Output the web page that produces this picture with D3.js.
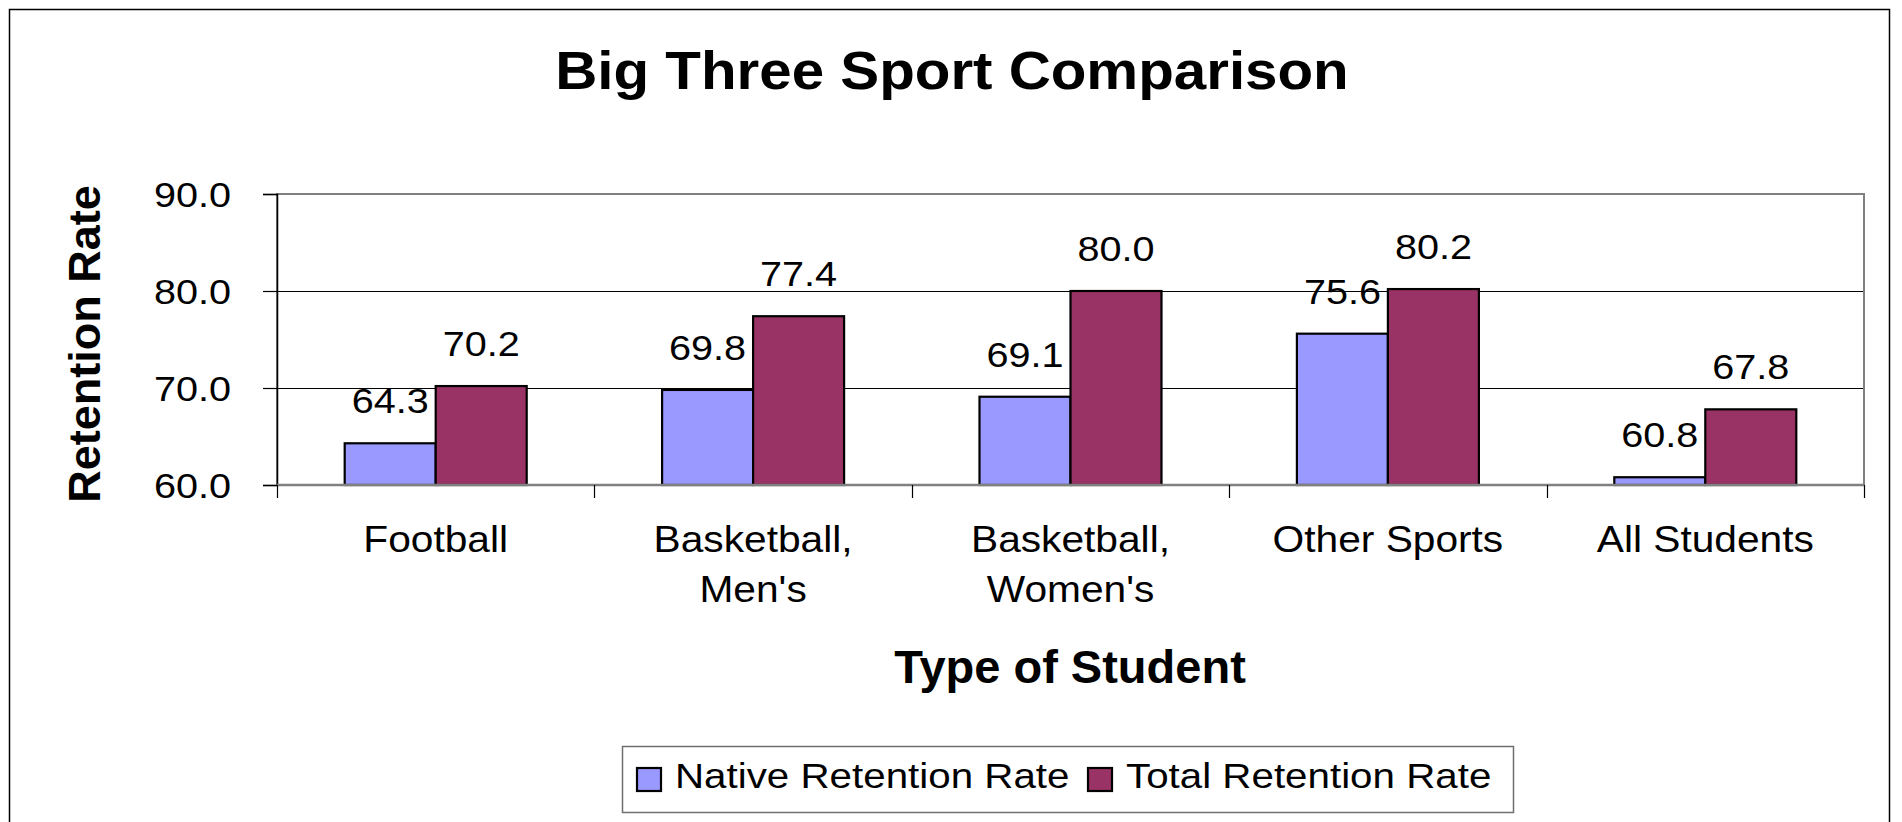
<!DOCTYPE html>
<html>
<head>
<meta charset="utf-8">
<script src="https://cdn.jsdelivr.net/npm/d3@7"></script>
<style>
  html, body { margin: 0; padding: 0; background: #fff; }
  svg { display: block; }
  text { font-family: "Liberation Sans", Arial, sans-serif; fill: #000; }
</style>
</head>
<body>
<script>
// ---- data ----
const categories = [["Football"], ["Basketball,", "Men's"], ["Basketball,", "Women's"], ["Other Sports"], ["All Students"]];
const seriesNames = ["Native Retention Rate", "Total Retention Rate"];
const nativeValues = [64.3, 69.8, 69.1, 75.6, 60.8];
const totalValues = [70.2, 77.4, 80.0, 80.2, 67.8];
const yTicks = [60, 70, 80, 90];
const colors = ["#9999FF", "#993366"];

const W = 1902, H = 822;
const STRETCH = 1.1;
const svg = d3.select("body").append("svg").attr("width", W).attr("height", H);

// outer chart border
svg.append("rect").attr("x", 9.5).attr("y", 9.5).attr("width", 1880).attr("height", 830)
  .attr("fill", "#fff").attr("stroke", "#000").attr("stroke-width", 1.5);

const plot = { left: 277, right: 1864, top: 194, bottom: 485 };

const x0 = d3.scaleBand().domain(d3.range(categories.length)).range([plot.left, plot.right]).paddingInner(0).paddingOuter(0);
const x1 = d3.scaleBand().domain([0, 1]).range([0, 182]);
const groupOffset = (x0.bandwidth() - 182) / 2;
const y = d3.scaleLinear().domain([60, 90]).range([plot.bottom, plot.top]);

function stretchText(sel, x, yy, k) {
  return sel.attr("transform", `translate(${x},${yy}) scale(${k || STRETCH},1)`);
}

// plot area
svg.append("rect").attr("x", plot.left).attr("y", plot.top)
  .attr("width", plot.right - plot.left).attr("height", plot.bottom - plot.top)
  .attr("fill", "#fff").attr("stroke", "none");

// gridlines
svg.append("g").selectAll("line").data(yTicks.filter(t => t !== 60 && t !== 90)).join("line")
  .attr("x1", plot.left).attr("x2", plot.right)
  .attr("y1", d => Math.round(y(d)) + 0.5).attr("y2", d => Math.round(y(d)) + 0.5)
  .attr("stroke", "#000").attr("stroke-width", 1);

// plot border (gray)
svg.append("rect").attr("x", plot.left).attr("y", plot.top)
  .attr("width", plot.right - plot.left).attr("height", plot.bottom - plot.top)
  .attr("fill", "none").attr("stroke", "#808080").attr("stroke-width", 2);

// bars
const groups = svg.append("g").selectAll("g").data(categories.map((c, i) => i)).join("g")
  .attr("transform", i => `translate(${x0(i) + groupOffset},0)`);
const seriesVals = [nativeValues, totalValues];
groups.selectAll("rect").data(i => [0, 1].map(s => ({ s, v: seriesVals[s][i] }))).join("rect")
  .attr("x", d => x1(d.s)).attr("width", x1.bandwidth())
  .attr("y", d => y(d.v)).attr("height", d => y(60) - y(d.v))
  .attr("fill", d => colors[d.s]).attr("stroke", "#000").attr("stroke-width", 2.2);

// value labels
groups.each(function(i) {
  const g = d3.select(this);
  [0, 1].forEach(s => {
    const v = seriesVals[s][i];
    stretchText(g.append("text"), x1(s) + x1.bandwidth() / 2, y(v) - 30)
      .attr("text-anchor", "middle").attr("font-size", 36)
      .text(v.toFixed(1));
  });
});

// y axis
const yAxis = svg.append("g").attr("transform", `translate(${plot.left},0)`)
  .call(d3.axisLeft(y).tickValues(yTicks).tickSize(14).tickPadding(31).tickFormat(d3.format(".1f")));
yAxis.select(".domain").attr("stroke", "#000").attr("stroke-width", 1.5);
yAxis.selectAll(".tick line").attr("stroke", "#000").attr("stroke-width", 1.2);
yAxis.selectAll(".tick text").attr("x", null).attr("dy", null)
  .attr("transform", `translate(-46,12) scale(${STRETCH},1)`)
  .attr("font-size", 36).attr("font-family", "Liberation Sans, Arial, sans-serif").attr("fill", "#000");

// x axis (ticks at category boundaries)
const bounds = d3.range(categories.length + 1).map(i => plot.left + i * x0.bandwidth());
svg.append("line").attr("x1", plot.left).attr("x2", plot.right).attr("y1", plot.bottom).attr("y2", plot.bottom)
  .attr("stroke", "#808080").attr("stroke-width", 2.5);
svg.append("g").selectAll("line").data(bounds).join("line")
  .attr("x1", d => Math.round(d) + 0.5).attr("x2", d => Math.round(d) + 0.5)
  .attr("y1", plot.bottom).attr("y2", plot.bottom + 13)
  .attr("stroke", "#000").attr("stroke-width", 1.2);

// category labels
categories.forEach((lines, i) => {
  const cx = x0(i) + x0.bandwidth() / 2;
  lines.forEach((ln, k) => {
    stretchText(svg.append("text"), cx, 552 + k * 50)
      .attr("text-anchor", "middle").attr("font-size", 37).text(ln);
  });
});

// title
stretchText(svg.append("text"), 952, 89)
  .attr("text-anchor", "middle").attr("font-size", 53).attr("font-weight", "bold")
  .text("Big Three Sport Comparison");

// axis titles
svg.append("text").attr("x", 1070).attr("y", 683).attr("text-anchor", "middle")
  .attr("font-size", 47).attr("font-weight", "bold").text("Type of Student");
svg.append("text").attr("transform", "translate(100,344) rotate(-90)").attr("text-anchor", "middle")
  .attr("font-size", 45).attr("font-weight", "bold").text("Retention Rate");

// legend
const lg = svg.append("g");
lg.append("rect").attr("x", 622.5).attr("y", 746.5).attr("width", 891).attr("height", 66)
  .attr("fill", "#fff").attr("stroke", "#6f6f6f").attr("stroke-width", 1.5);
const legendItems = [{ sx: 637, tx: 675 }, { sx: 1088, tx: 1126 }];
seriesNames.forEach((name, s) => {
  lg.append("rect").attr("x", legendItems[s].sx).attr("y", 768).attr("width", 24).attr("height", 23)
    .attr("fill", colors[s]).attr("stroke", "#000").attr("stroke-width", 2.2);
  stretchText(lg.append("text"), legendItems[s].tx, 788, 1.12).attr("font-size", 36).text(name);
});
</script>
</body>
</html>
